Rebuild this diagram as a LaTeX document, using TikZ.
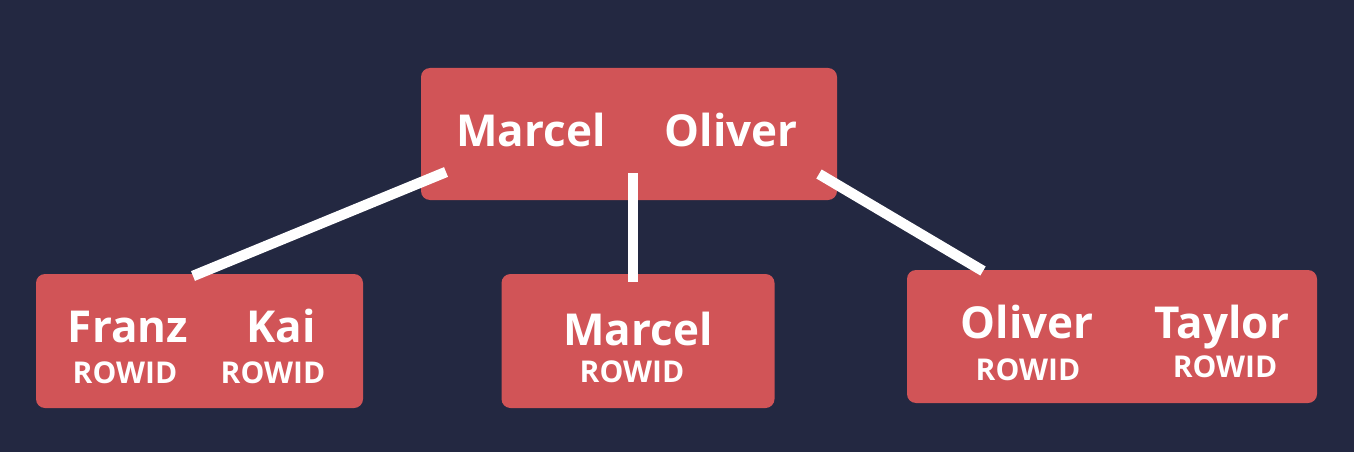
\documentclass[tikz,border=0pt]{standalone}
\usepackage{fontspec}
\setmainfont{Open Sans}
\definecolor{bg}{HTML}{232841}
\definecolor{boxred}{HTML}{D15457}
\tikzset{
  keybox/.style={fill=boxred, rounded corners=9pt, inner sep=0pt},
  nametext/.style={anchor=base, text=white, font=\fontsize{44}{44}\selectfont\bfseries, inner sep=0pt},
  rowidtext/.style={anchor=base, text=white, font=\fontsize{30}{30}\selectfont\bfseries, inner sep=0pt},
  link/.style={draw=white, line width=10.5pt, line cap=butt}
}
\begin{document}
\begin{tikzpicture}[x=1pt,y=-1pt]
\fill[bg] (0,0) rectangle (1354,452);
\useasboundingbox (0,0) rectangle (1354,452);
% boxes
\node[keybox, minimum width=416pt, minimum height=132pt] (root) at (629,134) {};
\node[keybox, minimum width=327pt, minimum height=134pt] (left) at (199.5,341) {};
\node[keybox, minimum width=273pt, minimum height=134pt] (mid) at (638,341) {};
\node[keybox, minimum width=410pt, minimum height=133pt] (right) at (1112,336.5) {};
% texts
\node[nametext] (rM) at (531,146) {Marcel};
\node[nametext] (rO) at (731,146) {Oliver};
\node[nametext] (lF) at (128,342) {Franz};
\node[nametext] (lK) at (281,342) {Kai};
\node[rowidtext] (lFr) at (125,383) {ROWID};
\node[rowidtext] (lKr) at (273,383) {ROWID};
\node[nametext] (mM) at (638,345) {Marcel};
\node[rowidtext] (mMr) at (632,382) {ROWID};
\node[nametext] (rtO) at (1027,338) {Oliver};
\node[nametext] (rtT) at (1222,338) {Taylor};
\node[rowidtext] (rtOr) at (1028,380) {ROWID};
\node[rowidtext] (rtTr) at (1225,377) {ROWID};
% connector ends
\coordinate (a1) at (446,172);
\coordinate (a2) at (193,276);
\coordinate (b1) at (633,173);
\coordinate (b2) at (633,282);
\coordinate (c1) at (819,174);
\coordinate (c2) at (983,271);
\draw[link] (a1) -- (a2);
\draw[link] (b1) -- (b2);
\draw[link] (c1) -- (c2);
\end{tikzpicture}
\end{document}
